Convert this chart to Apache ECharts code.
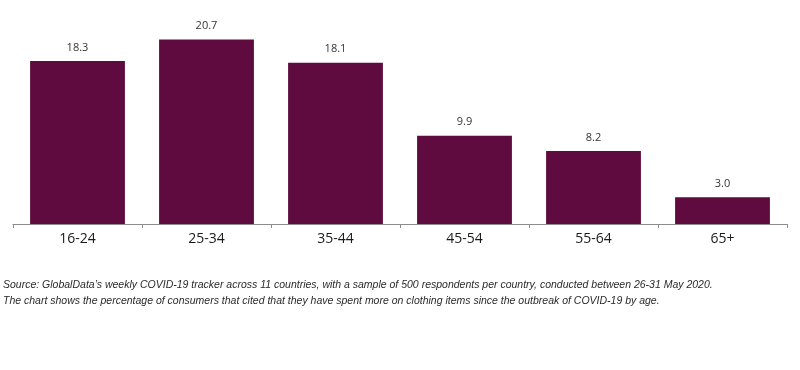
<!DOCTYPE html>
<html><head><meta charset="utf-8">
<script src="https://cdn.jsdelivr.net/npm/echarts@6/dist/echarts.min.js"></script>
<style>html,body{margin:0;padding:0;background:#fff}#c{width:800px;height:370px}</style>
</head><body><div id="c"></div>
<script>
const categories = ['16-24','25-34','35-44','45-54','55-64','65+'];
const values = [18.3, 20.7, 18.1, 9.9, 8.2, 3.0];
const noteLines = [
  "Source: GlobalData\u2019s weekly COVID-19 tracker across 11 countries, with a sample of 500 respondents per country, conducted between 26-31 May 2020.",
  "The chart shows the percentage of consumers that cited that they have spent more on clothing items since the outbreak of COVID-19 by age."
];
const chart = echarts.init(document.getElementById('c'));
chart.setOption({
  animation: false,
  grid: {left: 13, right: 13, top: 28, bottom: 146, containLabel: false},
  xAxis: {
    type: 'category', data: categories,
    axisLine: {lineStyle: {color: '#8c8c8c', width: 1}},
    axisTick: {show: true, length: 4, lineStyle: {color: '#8c8c8c'}},
    axisLabel: {color: '#1a1a1a', fontSize: 14, fontFamily: 'Open Sans, Liberation Sans, sans-serif', margin: 8}
  },
  yAxis: {type: 'value', min: 0, max: 22, show: false, splitLine: {show: false}},
  series: [{
    type: 'bar', data: values, barWidth: '73.5%',
    itemStyle: {color: '#5f0b3f'},
    label: {show: true, position: 'top', distance: 8, color: '#333', fontSize: 11,
      fontFamily: 'Open Sans, Liberation Sans, sans-serif',
      formatter: p => p.value.toFixed(1)}
  }],
  graphic: noteLines.map((t, i) => ({
    type: 'text', left: 3, top: 280 + i * 16,
    style: {text: t, fill: '#2a2a2a', font: 'italic 10.5px "Liberation Sans", sans-serif'}
  }))
});
</script></body></html>
